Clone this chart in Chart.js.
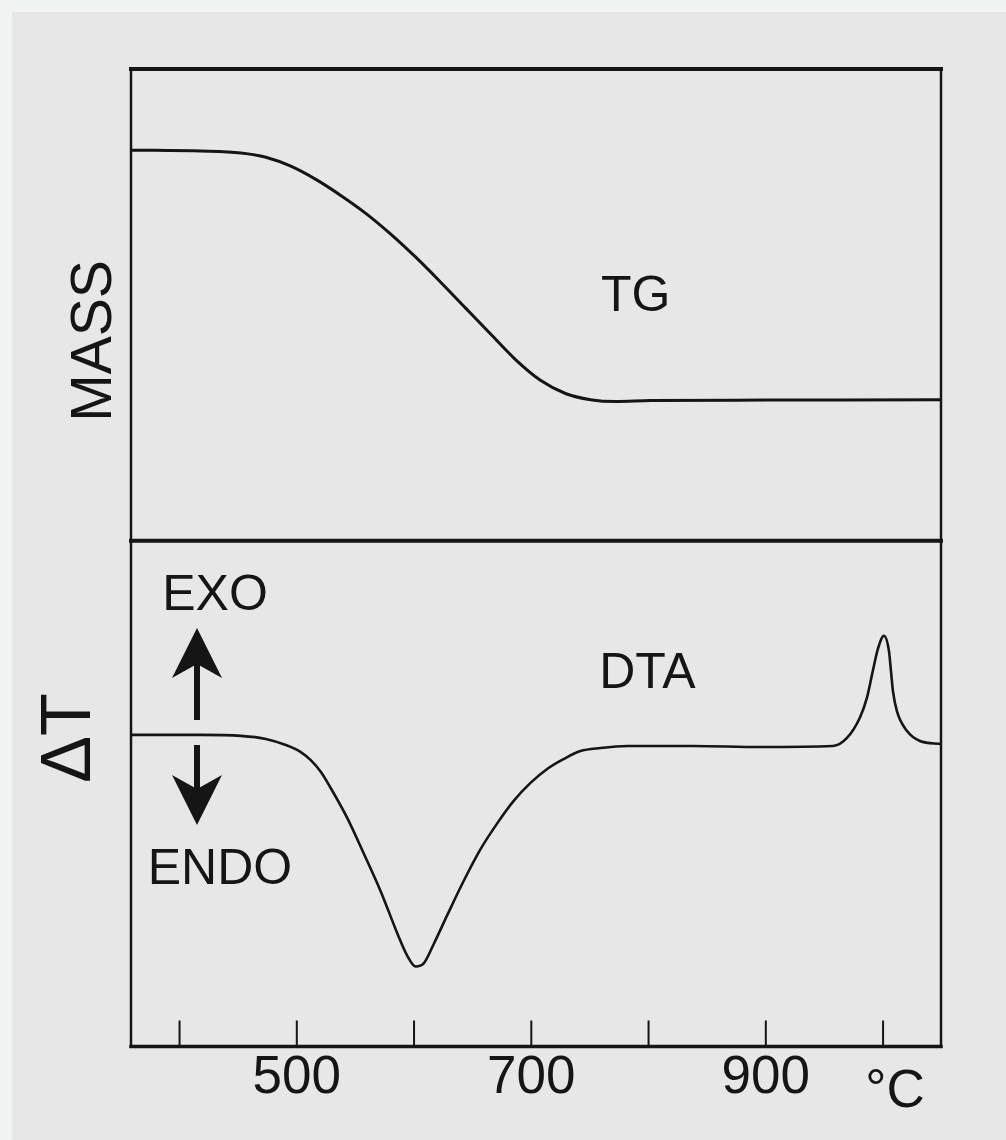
<!DOCTYPE html>
<html>
<head>
<meta charset="utf-8">
<title>TG / DTA</title>
<script src="https://cdn.jsdelivr.net/npm/chart.js@4.4.1/dist/chart.umd.min.js"></script>
<style>
  html, body { margin: 0; padding: 0; background: #e7e7e7; }
  canvas { display: block; }
</style>
</head>
<body>
<canvas id="thermoChart" width="1006" height="1140"></canvas>
<script>
// Curva TG: temperatura (°C) y masa relativa
const tgTemps = [358.6, 418.2, 452.3, 473.6, 494.9, 516.2, 537.5, 558.8, 580.1, 601.4, 622.7, 644.0, 665.3, 686.5, 707.8, 729.1, 750.4, 771.7, 801.5, 900, 1049.4];
const tgMass  = [82.8, 82.6, 82.2, 81.3, 79.4, 76.6, 73.2, 69.4, 65.0, 60.1, 54.8, 49.3, 43.8, 38.4, 34.0, 31.2, 29.9, 29.5, 29.7, 29.8, 29.9];

// Curva DTA: temperatura (°C) y señal ΔT
const dtaTemps  = [358.6, 418.2, 452.3, 473.6, 490.6, 503.4, 511.9, 520.4, 528.9, 543.4, 557.0, 571.5, 586.0, 594.5, 601.4, 608.2, 616.7, 628.6, 642.3, 656.7, 671.2, 684.8, 699.3, 713.8, 727.4, 741.9, 758.9, 781.9, 838.1, 895.2, 957.3, 969.2, 980.2, 986.2, 991.3, 995.6, 1000.7, 1005.0, 1006.7, 1008.4, 1011.8, 1020.3, 1031.4, 1049.4];
const dtaSignal = [61.6, 61.6, 61.4, 60.8, 59.6, 58.2, 56.6, 54.3, 51.1, 45.0, 38.2, 30.7, 22.2, 17.8, 15.8, 16.4, 20.2, 26.1, 32.7, 39.0, 44.2, 48.5, 52.1, 54.9, 56.8, 58.4, 59.0, 59.4, 59.4, 59.2, 59.4, 61.0, 65.0, 68.9, 74.3, 78.6, 81.2, 78.2, 74.3, 70.3, 66.3, 62.4, 60.4, 59.8];

// Eje de temperatura
const tickValues = [400, 500, 600, 700, 800, 900, 1000];
const tickLabels = ['', '500', '', '700', '', '900', ''];
const axisUnit = '°C';

const FONT = '"Liberation Sans", Arial, Helvetica, sans-serif';
const INK = '#151515';

// Fondo de papel
const paperPlugin = {
  id: 'paper',
  beforeDraw(chart) {
    const { ctx, width, height } = chart;
    ctx.save();
    ctx.fillStyle = '#e7e7e7';
    ctx.fillRect(0, 0, width, height);
    ctx.fillStyle = '#f1f3f3';
    ctx.fillRect(0, 0, 12, height);
    ctx.fillRect(0, 0, width, 12);
    ctx.restore();
  }
};

// Flecha vertical con punta en cola de milano
function drawArrow(ctx, x, yTail, yTip) {
  const dir = yTip < yTail ? -1 : 1;
  const headLen = 50, halfW = 25, notch = 14;
  const yBase = yTip - dir * headLen;
  ctx.save();
  ctx.strokeStyle = INK;
  ctx.fillStyle = INK;
  ctx.lineWidth = 6;
  ctx.beginPath();
  ctx.moveTo(x, yTail);
  ctx.lineTo(x, yBase + dir * notch);
  ctx.stroke();
  ctx.beginPath();
  ctx.moveTo(x, yTip);
  ctx.lineTo(x - halfW, yBase);
  ctx.lineTo(x, yBase + dir * notch);
  ctx.lineTo(x + halfW, yBase);
  ctx.closePath();
  ctx.fill();
  ctx.restore();
}

function drawText(ctx, text, x, y, size, rotate) {
  ctx.save();
  ctx.translate(x, y);
  if (rotate) ctx.rotate(-Math.PI / 2);
  ctx.font = size + 'px ' + FONT;
  ctx.fillStyle = INK;
  ctx.textAlign = 'center';
  ctx.textBaseline = 'middle';
  ctx.fillText(text, 0, 0);
  ctx.restore();
}

// Marco, separador, marcas interiores y rótulos
const framePlugin = {
  id: 'frame',
  afterDatasetsDraw(chart) {
    const { ctx, chartArea: a, scales } = chart;
    const sep = scales.yTG.bottom;
    ctx.save();
    ctx.strokeStyle = INK;
    ctx.lineCap = 'square';

    ctx.lineWidth = 2.5;
    ctx.beginPath();
    ctx.moveTo(a.left, a.top);
    ctx.lineTo(a.left, a.bottom);
    ctx.moveTo(a.right, a.top);
    ctx.lineTo(a.right, a.bottom);
    ctx.stroke();

    ctx.lineWidth = 4;
    ctx.beginPath();
    ctx.moveTo(a.left, a.top);
    ctx.lineTo(a.right, a.top);
    ctx.moveTo(a.left, sep);
    ctx.lineTo(a.right, sep);
    ctx.stroke();

    ctx.lineWidth = 3.5;
    ctx.beginPath();
    ctx.moveTo(a.left, a.bottom);
    ctx.lineTo(a.right, a.bottom);
    ctx.stroke();

    ctx.lineWidth = 2;
    ctx.lineCap = 'butt';
    ctx.beginPath();
    tickValues.forEach(v => {
      const x = scales.x.getPixelForValue(v);
      ctx.moveTo(x, a.bottom);
      ctx.lineTo(x, a.bottom - 26);
    });
    ctx.stroke();
    ctx.restore();

    // Rótulos
    drawText(ctx, 'MASS', 95, 341, 57, true);
    drawText(ctx, '\u0394T', 71, 738, 70, true);
    drawText(ctx, 'TG', scales.x.getPixelForValue(789), scales.yTG.getPixelForValue(51.6), 50);
    drawText(ctx, 'DTA', scales.x.getPixelForValue(799), scales.yDTA.getPixelForValue(73.5), 50);
    drawText(ctx, 'EXO', 215, 596, 50);
    drawText(ctx, 'ENDO', 220, 870, 50);
    drawArrow(ctx, 197, 720, 628);
    drawArrow(ctx, 197, 745, 825);

    // Unidad del eje
    drawText(ctx, axisUnit, scales.x.getPixelForValue(1000) + 12, 1092, 53);
  }
};

new Chart(document.getElementById('thermoChart'), {
  type: 'line',
  data: {
    datasets: [
      {
        label: 'TG',
        data: tgTemps.map((t, i) => ({ x: t, y: tgMass[i] })),
        yAxisID: 'yTG',
        borderColor: INK,
        borderWidth: 3,
        pointRadius: 0,
        cubicInterpolationMode: 'monotone',
        fill: false
      },
      {
        label: 'DTA',
        data: dtaTemps.map((t, i) => ({ x: t, y: dtaSignal[i] })),
        yAxisID: 'yDTA',
        borderColor: INK,
        borderWidth: 2.6,
        pointRadius: 0,
        cubicInterpolationMode: 'monotone',
        fill: false
      }
    ]
  },
  options: {
    responsive: false,
    animation: false,
    layout: { padding: { left: 131, right: 65, top: 69, bottom: 30 } },
    plugins: {
      legend: { display: false },
      tooltip: { enabled: false }
    },
    scales: {
      x: {
        type: 'linear',
        min: 358.6,
        max: 1049.4,
        afterBuildTicks: axis => { axis.ticks = tickValues.map(v => ({ value: v })); },
        grid: { display: false, drawTicks: false },
        border: { display: false },
        ticks: {
          autoSkip: false,
          maxRotation: 0,
          padding: 0,
          color: INK,
          font: { family: FONT, size: 53 },
          callback: (value, index) => tickLabels[index]
        }
      },
      yTG: {
        type: 'linear',
        position: 'left',
        min: 0,
        max: 100,
        display: false,
        stack: 'tgdta',
        stackWeight: 471,
        weight: 2
      },
      yDTA: {
        type: 'linear',
        position: 'left',
        min: 0,
        max: 100,
        display: false,
        stack: 'tgdta',
        stackWeight: 505,
        weight: 1
      }
    }
  },
  plugins: [paperPlugin, framePlugin]
});
</script>
</body>
</html>
